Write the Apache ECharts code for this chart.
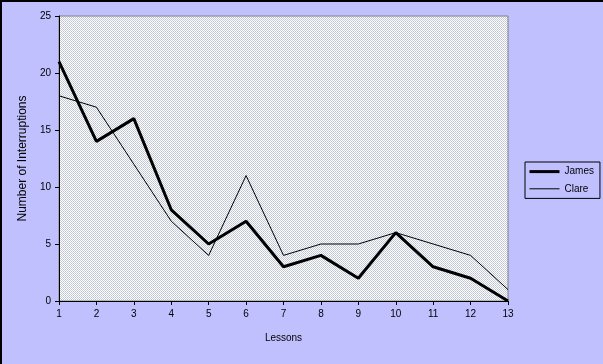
<!DOCTYPE html>
<html><head><meta charset="utf-8">
<script src="https://cdn.jsdelivr.net/npm/echarts@6/dist/echarts.min.js"></script>
<style>html,body{margin:0;padding:0;background:#C0C0FF;}#c{width:603px;height:364px;}</style>
</head><body><div id="c"></div>
<script>
const lessons = ['1','2','3','4','5','6','7','8','9','10','11','12','13'];
const james = [21,14,16,8,5,7,3,4,2,6,3,2,0];
const clare = [18,17,12,7,4,11,4,5,5,6,5,4,1];

const tile = document.createElement('canvas');
tile.width = 2; tile.height = 2;
const tc = tile.getContext('2d');
tc.fillStyle = '#ffffff'; tc.fillRect(0,0,2,2);
tc.fillStyle = '#c0d0e6'; tc.fillRect(0,0,1,1);
tc.fillStyle = '#c8c0c8'; tc.fillRect(1,1,1,1);

const font = 'Liberation Sans, Arial, sans-serif';
const chart = echarts.init(document.getElementById('c'), null, {renderer:'canvas'});
chart.setOption({
  backgroundColor: '#C0C0FF',
  animation: false,
  textStyle: {fontFamily: font},
  graphic: [
    {type:'rect', shape:{x:0,y:0,width:603,height:2}, style:{fill:'#000'}, z:100},
    {type:'rect', shape:{x:0,y:0,width:2,height:364}, style:{fill:'#000'}, z:100}
  ],
  grid: {left:59, right:95, top:16, bottom:63, show:true,
    backgroundColor:{image: tile, repeat:'repeat'}, borderColor:'#808080', borderWidth:1},
  legend: {orient:'vertical', left:525, top:162, width:70, height:40,
    backgroundColor:'#C0C0FF', borderColor:'#000', borderWidth:1,
    padding:[4,6,4,3], itemWidth:30, itemHeight:14, itemGap:6,
    itemStyle:{color:'rgba(0,0,0,0)', borderWidth:0, opacity:0},
    textStyle:{color:'#000', fontSize:10, fontFamily:font},
    data:[{name:'James', lineStyle:{width:3, color:'#000'}},
          {name:'Clare', lineStyle:{width:1, color:'#000'}}]},
  xAxis: {type:'category', data:lessons, boundaryGap:false,
    name:'Lessons', nameLocation:'middle', nameGap:32,
    nameTextStyle:{color:'#000', fontSize:10},
    axisLine:{lineStyle:{color:'#000', width:1}},
    axisTick:{show:true, length:4, lineStyle:{color:'#000'}},
    axisLabel:{color:'#000', fontSize:10, margin:8},
    splitLine:{show:false}},
  yAxis: {type:'value', min:0, max:25, interval:5,
    name:'Number of Interruptions', nameLocation:'middle', nameGap:27,
    nameTextStyle:{color:'#000', fontSize:12},
    axisLine:{show:true, lineStyle:{color:'#000', width:1}},
    axisTick:{show:true, length:4, lineStyle:{color:'#000'}},
    axisLabel:{color:'#000', fontSize:10, margin:8},
    splitLine:{show:false}},
  series: [
    {name:'James', type:'line', data:james, symbol:'none', color:'#000',
      lineStyle:{color:'#000', width:3}},
    {name:'Clare', type:'line', data:clare, symbol:'none', color:'#000',
      lineStyle:{color:'#000', width:1}}
  ]
});
</script></body></html>
